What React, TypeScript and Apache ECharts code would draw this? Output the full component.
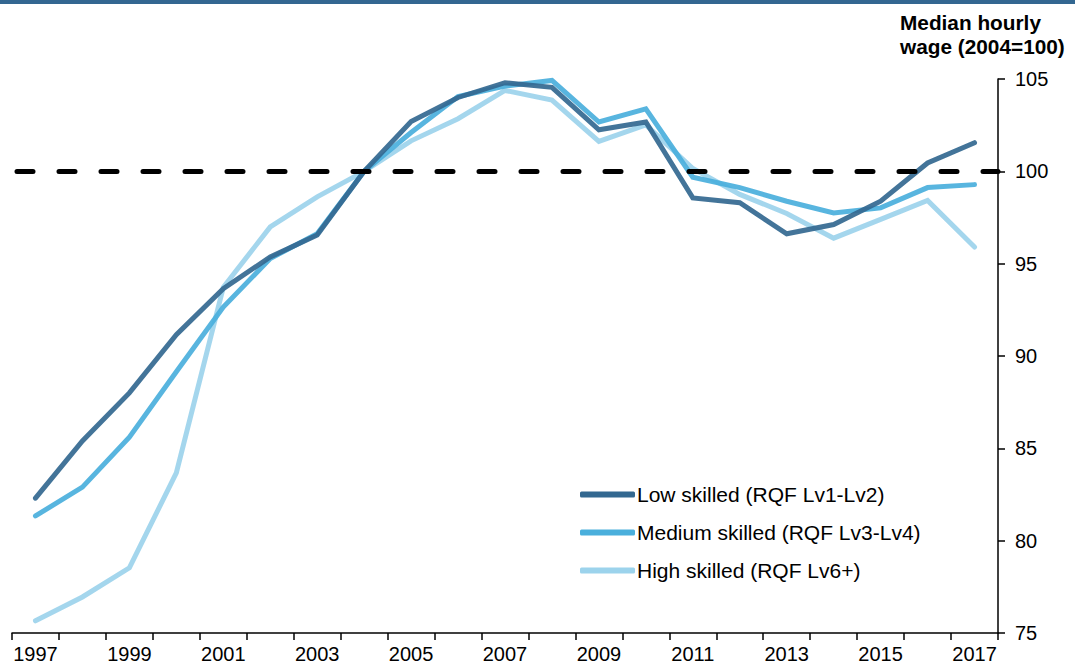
import React, { useEffect, useRef } from "react";
import * as echarts from "echarts";

const years = ["1997","1998","1999","2000","2001","2002","2003","2004","2005","2006","2007","2008","2009","2010","2011","2012","2013","2014","2015","2016","2017"];
const lowSkilled = [82.3, 85.4, 88.0, 91.15, 93.65, 95.36, 96.55, 100.0, 102.7, 104.0, 104.8, 104.55, 102.25, 102.67, 98.56, 98.3, 96.62, 97.12, 98.38, 100.45, 101.55];
const mediumSkilled = [81.34, 82.9, 85.6, 89.15, 92.65, 95.28, 96.62, 100.0, 102.1, 104.05, 104.62, 104.92, 102.67, 103.38, 99.68, 99.12, 98.38, 97.75, 98.02, 99.12, 99.28];
const highSkilled = [75.66, 76.95, 78.53, 83.67, 93.72, 96.99, 98.62, 100.0, 101.65, 102.85, 104.38, 103.86, 101.62, 102.52, 100.15, 98.75, 97.72, 96.38, 97.4, 98.42, 95.9];
const baseline = 100;
const yTicks = { min: 75, max: 105, interval: 5 };
const seriesNames = ["Low skilled (RQF Lv1-Lv2)", "Medium skilled (RQF Lv3-Lv4)", "High skilled (RQF Lv6+)"];
const colors = ["#336890", "#4aafdc", "#9cd3ec"];
const FONT = "Liberation Sans";

export default function App() {
  const ref = useRef<HTMLDivElement>(null);
  useEffect(() => {
    if (!ref.current) return;
    const chart = echarts.init(ref.current, null, { renderer: "svg" });
    const dataSets = [lowSkilled, mediumSkilled, highSkilled];
    chart.setOption({
      animation: false,
      backgroundColor: "#ffffff",
      textStyle: { fontFamily: FONT },
      grid: { left: 12, right: 77, top: 79, bottom: 38 },
      graphic: [
        { type: "rect", left: 0, top: 0, shape: { width: 1075, height: 4 }, style: { fill: "#336791" }, z: 10 },
        {
          type: "text",
          x: 900,
          y: 10,
          style: {
            text: "Median hourly\nwage (2004=100)",
            font: `bold 20.8px "${FONT}"`,
            lineHeight: 24,
            fill: "#000000",
            align: "left",
          },
        },
      ],
      legend: {
        orient: "vertical",
        left: 575,
        top: 479,
        itemWidth: 55,
        itemHeight: 6,
        itemGap: 17,
        icon: "roundRect",
        textStyle: { fontSize: 21, color: "#000000", fontFamily: FONT, padding: [0, 0, 0, -3] },
        data: seriesNames,
      },
      xAxis: {
        type: "category",
        data: years,
        boundaryGap: true,
        axisLine: { lineStyle: { color: "#000000", width: 1.5 } },
        axisTick: { show: true, interval: 0, length: 7, lineStyle: { color: "#000000", width: 1.5 } },
        axisLabel: { interval: 1, fontSize: 20, color: "#000000", margin: 11, fontFamily: FONT },
      },
      yAxis: {
        type: "value",
        position: "right",
        min: yTicks.min,
        max: yTicks.max,
        interval: yTicks.interval,
        splitLine: { show: false },
        axisLine: { show: true, lineStyle: { color: "#000000", width: 1.5 } },
        axisTick: { show: true, inside: false, length: 7, lineStyle: { color: "#000000", width: 1.5 } },
        axisLabel: { fontSize: 20, color: "#000000", margin: 17, fontFamily: FONT },
      },
      series: [
        ...dataSets.map((d, i) => ({
          name: seriesNames[i],
          type: "line",
          data: d,
          symbol: "none",
          color: colors[i],
          z: 3 - i,
          lineStyle: { width: 5, color: colors[i], opacity: 0.92, cap: "round", join: "miter" },
          itemStyle: { color: colors[i] },
          markLine: i === 0 ? {
            silent: true,
            symbol: "none",
            label: { show: false },
            lineStyle: { color: "#000000", width: 5, type: [16, 26], dashOffset: -5, cap: "round" },
            data: [{ yAxis: baseline }],
          } : undefined,
        })),
      ],
    });
    return () => chart.dispose();
  }, []);
  return <div ref={ref} style={{ position: "fixed", left: 0, top: 0, width: 1075, height: 671 }} />;
}
